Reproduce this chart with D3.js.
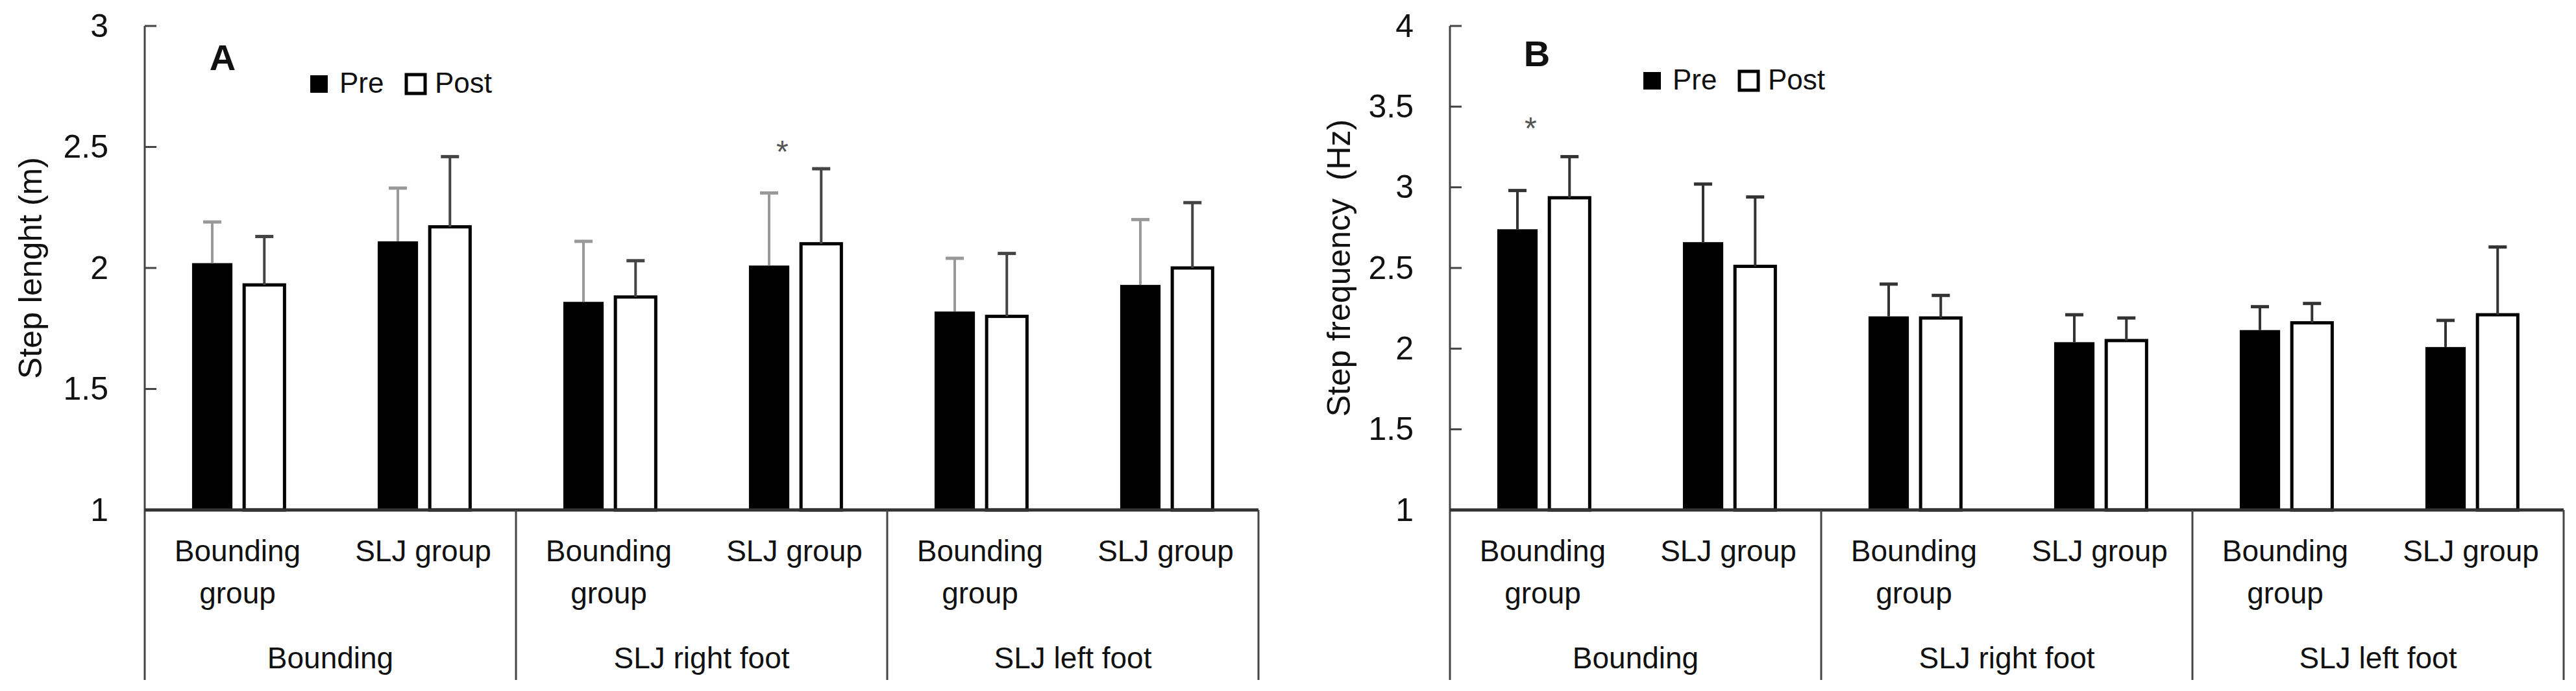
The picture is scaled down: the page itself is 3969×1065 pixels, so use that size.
<!DOCTYPE html>
<html>
<head>
<meta charset="utf-8">
<script src="https://cdn.jsdelivr.net/npm/d3@7"></script>
<style>
  body { margin: 0; background: #fff; }
  text { font-family: "Liberation Sans", Arial, sans-serif; fill: #111; }
</style>
</head>
<body>
<script>
'use strict';

// groups on the x axis, the two categories inside each, the two series
const groups = ["Bounding", "SLJ right foot", "SLJ left foot"];
const categories = ["Bounding group", "SLJ group"];
const series = ["Pre", "Post"];

// panel A - step length (m), means and SD (upper error bar)
const lengthPre = [2.02, 2.11, 1.86, 2.01, 1.82, 1.93];
const lengthPreSD = [0.17, 0.22, 0.25, 0.30, 0.22, 0.27];
const lengthPost = [1.93, 2.17, 1.88, 2.10, 1.80, 2.00];
const lengthPostSD = [0.20, 0.29, 0.15, 0.31, 0.26, 0.27];
const lengthTicks = [1, 1.5, 2, 2.5, 3];
const lengthStars = [{ group: "SLJ right foot", cat: "SLJ group", value: 2.49 }];

// panel B - step frequency (Hz)
const freqPre = [2.74, 2.66, 2.20, 2.04, 2.115, 2.01];
const freqPreSD = [0.24, 0.36, 0.20, 0.17, 0.145, 0.165];
const freqPost = [2.935, 2.51, 2.19, 2.05, 2.16, 2.21];
const freqPostSD = [0.255, 0.43, 0.14, 0.14, 0.12, 0.42];
const freqTicks = [1, 1.5, 2, 2.5, 3, 3.5, 4];
const freqStars = [{ group: "Bounding", cat: "Bounding group", value: 3.38 }];

const svg = d3.select("body").append("svg")
    .attr("width", 3969)
    .attr("height", 1065);

function rows(pre, preSD, post, postSD) {
    let out = [];
    groups.forEach((g, gi) => {
        categories.forEach((c, ci) => {
            let i = gi * 2 + ci;
            out.push({ group: g, cat: c, series: "Pre", value: pre[i], sd: preSD[i] });
            out.push({ group: g, cat: c, series: "Post", value: post[i], sd: postSD[i] });
        });
    });
    return out;
}

function drawPanel(cfg) {
    const data = rows(cfg.pre, cfg.preSD, cfg.post, cfg.postSD);
    const top = 40, base = 786, bottom = 1048;

    const y = d3.scaleLinear()
        .domain([1, d3.max(cfg.ticks)])
        .range([base, top]);
    const xGroup = d3.scaleBand().domain(groups).range([cfg.x0, cfg.x1]);
    const xCat = d3.scaleBand().domain(categories).range([0, xGroup.bandwidth()]);
    const xSer = d3.scaleBand().domain(series)
        .range([xCat.bandwidth() * 0.255, xCat.bandwidth() * 0.753])
        .paddingInner(0.225);

    const g = svg.append("g");
    const catX = d => xGroup(d.group) + xCat(d.cat);

    // y axis
    const yAxis = d3.axisLeft(y).tickValues(cfg.ticks).tickSize(0).tickPadding(56)
        .tickFormat(d3.format("~g"));
    const ya = g.append("g").attr("transform", `translate(${cfg.x0},0)`).call(yAxis);
    ya.select(".domain").remove();
    ya.selectAll("text").style("font-size", "50px").attr("fill", "#111");
    g.selectAll(".ytick").data(cfg.ticks).enter().append("line")
        .attr("x1", cfg.x0).attr("x2", cfg.x0 + 18)
        .attr("y1", d => y(d)).attr("y2", d => y(d))
        .attr("stroke", "#444").attr("stroke-width", 3);
    g.append("line")
        .attr("x1", cfg.x0).attr("x2", cfg.x0)
        .attr("y1", y(d3.max(cfg.ticks))).attr("y2", bottom)
        .attr("stroke", "#444").attr("stroke-width", 3);

    // bars
    g.selectAll(".bar").data(data).enter().append("rect")
        .attr("x", d => catX(d) + xSer(d.series))
        .attr("y", d => y(d.value))
        .attr("width", xSer.bandwidth())
        .attr("height", d => y(1) - y(d.value))
        .attr("fill", d => d.series === "Pre" ? "#000" : "#fff")
        .attr("stroke", d => d.series === "Pre" ? "none" : "#000")
        .attr("stroke-width", 5);

    // error bars (upper only)
    const ex = d => catX(d) + xSer(d.series) + xSer.bandwidth() / 2;
    const errColor = d => d.series === "Pre" ? cfg.preErr : cfg.postErr;
    g.selectAll(".err").data(data).enter().append("line")
        .attr("x1", ex).attr("x2", ex)
        .attr("y1", d => y(d.value)).attr("y2", d => y(d.value + d.sd))
        .attr("stroke", errColor).attr("stroke-width", 4);
    g.selectAll(".cap").data(data).enter().append("line")
        .attr("x1", d => ex(d) - 14).attr("x2", d => ex(d) + 14)
        .attr("y1", d => y(d.value + d.sd)).attr("y2", d => y(d.value + d.sd))
        .attr("stroke", errColor).attr("stroke-width", 5);

    // x axis baseline and group dividers
    g.append("line")
        .attr("x1", cfg.x0).attr("x2", cfg.x1)
        .attr("y1", y(1)).attr("y2", y(1))
        .attr("stroke", "#333").attr("stroke-width", 5);
    g.selectAll(".div").data(groups.slice(1).concat(["end"])).enter().append("line")
        .attr("x1", d => d === "end" ? cfg.x1 : xGroup(d))
        .attr("x2", d => d === "end" ? cfg.x1 : xGroup(d))
        .attr("y1", y(1)).attr("y2", bottom)
        .attr("stroke", "#444").attr("stroke-width", 3);

    // category labels
    const catLabels = [];
    groups.forEach(gr => categories.forEach(c => catLabels.push({ group: gr, cat: c })));
    const cl = g.selectAll(".cat").data(catLabels).enter().append("text")
        .attr("text-anchor", "middle")
        .style("font-size", "46px");
    cl.each(function(d) {
        const cx = catX(d) + xCat.bandwidth() / 2;
        const words = d.cat === "Bounding group" ? ["Bounding", "group"] : [d.cat];
        d3.select(this).selectAll("tspan").data(words).enter().append("tspan")
            .attr("x", cx)
            .attr("y", (w, i) => 865 + i * 65)
            .text(w => w);
    });

    // group labels
    g.selectAll(".grp").data(groups).enter().append("text")
        .attr("x", d => xGroup(d) + xGroup.bandwidth() / 2)
        .attr("y", 1030)
        .attr("text-anchor", "middle")
        .style("font-size", "46px")
        .text(d => d);

    // significance stars
    g.selectAll(".star").data(cfg.stars).enter().append("text")
        .attr("x", d => xGroup(d.group) + xCat(d.cat) + xCat.bandwidth() * 0.435)
        .attr("y", d => y(d.value) + 20)
        .attr("text-anchor", "middle")
        .attr("fill", "#555")
        .style("fill", "#555")
        .style("font-size", "48px")
        .text("*");

    // y axis title
    g.append("text")
        .attr("transform", `translate(${cfg.titleX},${(top + base) / 2}) rotate(-90)`)
        .attr("text-anchor", "middle")
        .style("font-size", "50px")
        .style("white-space", "pre")
        .text(cfg.title);

    // panel letter
    g.append("text")
        .attr("x", cfg.x0 + cfg.letterDx).attr("y", cfg.letterY)
        .attr("text-anchor", "middle")
        .style("font-size", "56px")
        .style("font-weight", "bold")
        .text(cfg.letter);

    // legend
    const lx = cfg.x0 + cfg.legendDx, ly = cfg.legendY;
    g.append("rect").attr("x", lx).attr("y", ly - 27).attr("width", 27).attr("height", 27)
        .attr("fill", "#000");
    g.append("text").attr("x", lx + 45).attr("y", ly).style("font-size", "44px").text(series[0]);
    g.append("rect").attr("x", lx + 148).attr("y", ly - 28).attr("width", 29).attr("height", 29)
        .attr("fill", "#fff").attr("stroke", "#000").attr("stroke-width", 5);
    g.append("text").attr("x", lx + 192).attr("y", ly).style("font-size", "44px").text(series[1]);
}

drawPanel({
    x0: 223, x1: 1939,
    pre: lengthPre, preSD: lengthPreSD, post: lengthPost, postSD: lengthPostSD,
    ticks: lengthTicks, stars: lengthStars,
    preErr: "#999", postErr: "#444",
    title: "Step lenght (m)", titleX: 64,
    letter: "A", letterDx: 120, letterY: 108,
    legendDx: 255, legendY: 143
});

drawPanel({
    x0: 2234, x1: 3950,
    pre: freqPre, preSD: freqPreSD, post: freqPost, postSD: freqPostSD,
    ticks: freqTicks, stars: freqStars,
    preErr: "#333", postErr: "#333",
    title: "Step frequency  (Hz)", titleX: 2080,
    letter: "B", letterDx: 134, letterY: 102,
    legendDx: 298, legendY: 138
});
</script>
</body>
</html>
